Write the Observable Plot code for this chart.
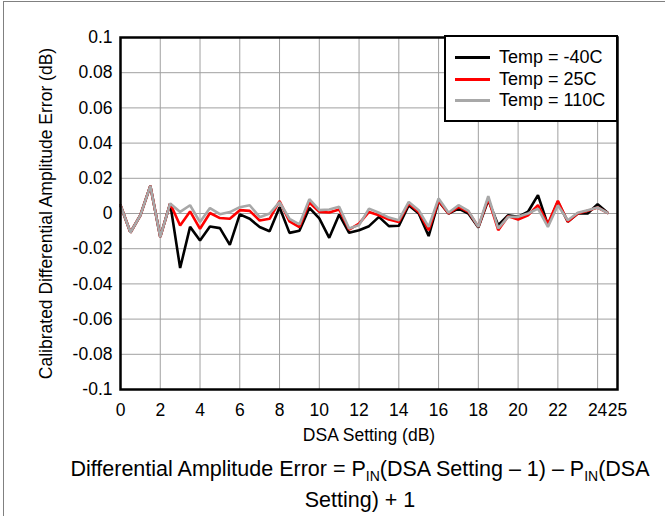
<!DOCTYPE html>
<html>
<head>
<meta charset="utf-8">
<script src="https://cdn.jsdelivr.net/npm/d3@7"></script>
<script src="https://cdn.jsdelivr.net/npm/@observablehq/plot@0.6"></script>
<style>
  body { margin: 0; background: #fff; font-family: "Liberation Sans", Arial, sans-serif; }
  #wrap { position: relative; width: 665px; height: 516px; overflow: hidden; background: #fff; }
  #border { position: absolute; left: 3px; top: 1px; width: 720px; height: 600px; border: 1px solid #808080; }
  #chart { position: absolute; left: 0; top: 0; }
  #legendBox { position: absolute; left: 444px; top: 35px; width: 174px; height: 87px; box-sizing: border-box; border: 2px solid #000; background: #fff; }
  .lgLine { position: absolute; left: 455px; width: 35px; height: 3px; }
  .lgText { position: absolute; left: 499px; font-size: 18px; line-height: 22px; color: #000; white-space: nowrap; }
  #caption { position: absolute; left: 50px; top: 454px; width: 620px; text-align: center; font-size: 21.5px; line-height: 31px; color: #000; white-space: nowrap; }
  #caption sub { font-size: 14px; vertical-align: -5px; line-height: 0; }
</style>
</head>
<body>
<div id="wrap">
  <div id="border"></div>
  <div id="chart"></div>
  <div id="caption">Differential Amplitude Error = P<sub>IN</sub>(DSA Setting – 1) – P<sub>IN</sub>(DSA<br>Setting) + 1</div>
</div>
<script>
// ---- data ----
const dsaSetting = [0, 0.5, 1, 1.5, 2, 2.5, 3, 3.5, 4, 4.5, 5, 5.5, 6, 6.5, 7, 7.5, 8, 8.5, 9, 9.5,
  10, 10.5, 11, 11.5, 12, 12.5, 13, 13.5, 14, 14.5, 15, 15.5, 16, 16.5, 17, 17.5, 18, 18.5, 19, 19.5,
  20, 20.5, 21, 21.5, 22, 22.5, 23, 23.5, 24, 24.5];

const errM40 = [0.0047, -0.0108, -0.001, 0.0157, -0.0133, 0.0057, -0.031, -0.0076, -0.0153, -0.0074,
  -0.0083, -0.0178, -0.0005, -0.003, -0.0077, -0.0101, 0.0036, -0.011, -0.0098, 0.0032,
  -0.0028, -0.0138, -0.0006, -0.011, -0.0095, -0.0072, -0.0019, -0.0072, -0.007, 0.0047,
  0.0, -0.0128, 0.007, 0.0, 0.0028, 0.0, -0.008, 0.0076, -0.0066, -0.001,
  -0.0019, 0.001, 0.0104, -0.0066, 0.0066, -0.0047, 0.0, 0.0, 0.0053, 0.0004];

const err25 = [0.0047, -0.0108, -0.001, 0.0157, -0.0133, 0.0057, -0.0068, 0.0012, -0.0087, 0.0003,
  -0.0026, -0.003, 0.0019, 0.0015, -0.004, -0.003, 0.007, -0.0045, -0.0077, 0.0062,
  0.0009, 0.0006, 0.0023, -0.0091, -0.0057, 0.0009, -0.001, -0.0034, -0.0048, 0.0057,
  0.0009, -0.0095, 0.0074, 0.0, 0.0038, 0.001, -0.0076, 0.0085, -0.0095, -0.0015,
  -0.0034, -0.001, 0.0047, -0.006, 0.0072, -0.0047, 0.0, 0.0015, 0.0034, 0.0004];

const err110 = [0.0047, -0.0108, -0.001, 0.0157, -0.0133, 0.0057, 0.0009, 0.0047, -0.0049, 0.0031,
  -0.0004, 0.0008, 0.0036, 0.0047, -0.0021, 0.0, 0.0065, -0.003, -0.0062, 0.0081,
  0.0019, 0.0023, 0.0038, -0.0085, -0.0066, 0.0028, 0.0004, -0.0023, -0.0038, 0.0066,
  0.0019, -0.0076, 0.0085, 0.0004, 0.0047, 0.0015, -0.0076, 0.0098, -0.0085, -0.0019,
  -0.0019, 0.0, 0.0028, -0.0076, 0.0047, -0.0038, 0.0004, 0.0019, 0.0034, 0.0004];

const seriesNames = ["Temp = -40C", "Temp = 25C", "Temp = 110C"];
const seriesColors = ["#000000", "#ff0000", "#a8a8a8"];
const xTicks = [0, 2, 4, 6, 8, 10, 12, 14, 16, 18, 20, 22, 24, 25];
const xGrid = [2, 4, 6, 8, 10, 12, 14, 16, 18, 20, 22, 24];
const yTicks = [-0.1, -0.08, -0.06, -0.04, -0.02, 0, 0.02, 0.04, 0.06, 0.08, 0.1];
const xLabel = "DSA Setting (dB)";
const yLabel = "Calibrated Differential Amplitude Error (dB)";

// ---- build table ----
const seriesValues = [errM40, err25, err110];
const rows = [];
seriesValues.forEach((arr, i) => arr.forEach((v, j) => rows.push({x: dsaSetting[j], y: v, s: seriesNames[i]})));

const fmtY = d => d === 0 ? "0" : d.toFixed(2).replace(/0$/, "");
const font = "'Liberation Sans', Arial, sans-serif";

const chart = Plot.plot({
  width: 665,
  height: 445,
  marginLeft: 120,
  marginRight: 48,
  marginTop: 37,
  marginBottom: 56,
  style: {fontFamily: font, fontSize: "17.5px", color: "#000", background: "transparent", overflow: "visible"},
  x: {domain: [0, 25]},
  y: {domain: [-0.1, 0.1]},
  color: {domain: seriesNames, range: seriesColors},
  marks: [
    Plot.gridX({ticks: xGrid, stroke: "#a0a0a0", strokeOpacity: 1, strokeWidth: 1}),
    Plot.gridY({ticks: yTicks, stroke: "#a0a0a0", strokeOpacity: 1, strokeWidth: 1}),
    Plot.line(rows, {x: "x", y: "y", z: "s", stroke: "s", strokeWidth: 2.6, strokeLinejoin: "miter"}),
    Plot.frame({stroke: "#000", strokeWidth: 2.5}),
    Plot.axisX({ticks: xTicks, tickSize: 0, tickPadding: 14, tickFormat: d => String(d),
      label: xLabel, labelAnchor: "center", labelOffset: 51, labelArrow: "none"}),
    Plot.axisY({ticks: yTicks, tickSize: 0, tickPadding: 8, tickFormat: fmtY,
      label: yLabel, labelAnchor: "center", labelOffset: 81, labelArrow: "none"})
  ]
});
document.getElementById("chart").appendChild(chart);

// ---- legend (inside plot frame, top right) ----
const wrap = document.getElementById("wrap");
const box = document.createElement("div");
box.id = "legendBox";
wrap.appendChild(box);
const rowY = [57, 79, 100];
seriesNames.forEach((name, i) => {
  const ln = document.createElement("div");
  ln.className = "lgLine";
  ln.style.top = (rowY[i] - 1.5) + "px";
  ln.style.background = seriesColors[i];
  wrap.appendChild(ln);
  const tx = document.createElement("div");
  tx.className = "lgText";
  tx.style.top = (rowY[i] - 11) + "px";
  tx.textContent = name;
  wrap.appendChild(tx);
});
</script>
</body>
</html>
